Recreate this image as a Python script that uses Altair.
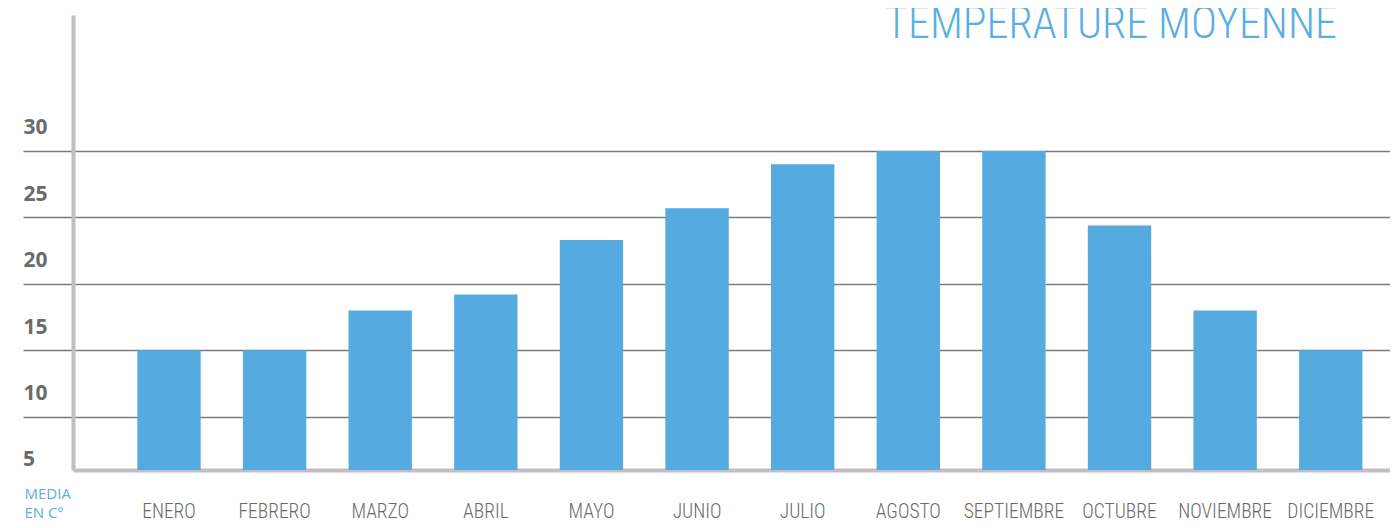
import altair as alt
import pandas as pd

months = ["ENERO", "FEBRERO", "MARZO", "ABRIL", "MAYO", "JUNIO", "JULIO",
          "AGOSTO", "SEPTIEMBRE", "OCTUBRE", "NOVIEMBRE", "DICIEMBRE"]
temps = [15, 15, 18, 19.2, 23.3, 25.7, 29, 30, 30, 24.4, 18, 15]
y_ticks = [10, 15, 20, 25, 30]
y_extra_label = [5]
title_text = "TEMPERATURE MOYENNE"
axis_note = ["MEDIA", "EN Cº"]

df = pd.DataFrame({"mes": months, "temp": temps})
df5 = pd.DataFrame({"v": y_extra_label, "t": [str(v) for v in y_extra_label]})

W, H = 1317, 455
BLUE = "#55aadf"
NARROW = "Roboto Condensed, sans-serif"

xscale = alt.Scale(paddingInner=0.4, paddingOuter=0.435, align=0.7)
yscale = alt.Scale(domain=[6, 40.23], nice=False, zero=False)

bars = alt.Chart(df).mark_bar(color=BLUE, clip=True).encode(
    x=alt.X("mes:N", sort=months, scale=xscale,
            axis=alt.Axis(title=None, ticks=False, labelAngle=0,
                          labelFont=NARROW, labelFontSize=19.5, labelFontWeight=300,
                          labelColor="#6a6a6a",
                          labelPadding=32, labelBaseline="top",
                          domainColor="#c2bec2", domainWidth=4)),
    y=alt.Y("temp:Q", scale=yscale,
            axis=alt.Axis(values=y_ticks, title=axis_note, titleAngle=0,
                          titleX=-49, titleY=H + 16, titleAlign="left",
                          titleBaseline="top", titleFont="Open Sans",
                          titleFontSize=15, titleFontWeight="normal",
                          titleColor="#5aaee0", titleLineHeight=19,
                          grid=True, gridColor="#7b7b7b", gridWidth=1.5,
                          tickSize=50, tickColor="#7b7b7b", tickWidth=1.5,
                          labelAlign="left", labelBaseline="bottom",
                          labelPadding=0, labelOffset=-13,
                          labelFont="Open Sans", labelFontWeight="bold",
                          labelFontSize=21, labelColor="#6b6b6b",
                          domainColor="#c2bec2", domainWidth=4)),
)

five = alt.Chart(df5).mark_text(
    align="left", baseline="bottom", dx=-50, dy=-13, font="Open Sans",
    fontWeight="bold", fontSize=21, color="#6b6b6b", clip=False
).encode(
    x=alt.value(0),
    y=alt.Y("v:Q", scale=yscale),
    text="t:N",
)

title = alt.Chart(pd.DataFrame({"t": [title_text]})).mark_text(
    align="right", baseline="alphabetic", font=NARROW, fontSize=44,
    fontWeight=300, color="#5aaee0"
).encode(
    x=alt.value(1337 - 73),
    y=alt.value(23),
    text="t:N",
)

chart = alt.layer(bars, five, title).properties(
    width=W, height=H,
    background="white",
    autosize=alt.AutoSizeParams(type="none"),
    padding={"left": 65, "top": 7, "right": 0, "bottom": 58},
).configure_view(stroke=None)

chart.save("out.html", embed_options={"renderer": "svg", "actions": False})
